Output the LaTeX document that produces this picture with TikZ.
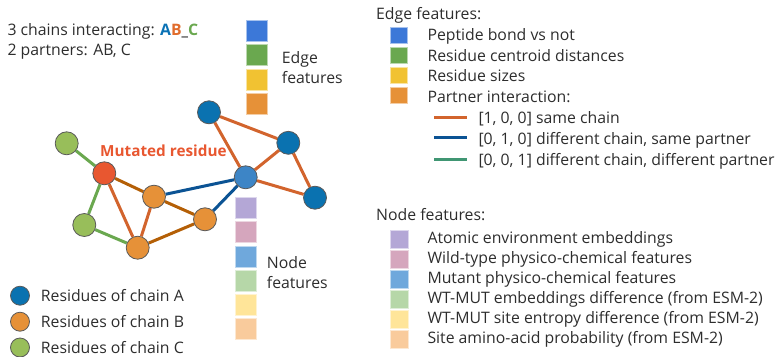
\documentclass[tikz,border=0pt]{standalone}
\usepackage{fontspec}
\setmainfont{Open Sans}
\pgfdeclarelayer{bg}
\pgfsetlayers{bg,main}
\definecolor{cA}{RGB}{10,114,176}
\definecolor{cAc}{RGB}{61,133,198}
\definecolor{cB}{RGB}{230,145,56}
\definecolor{cC}{RGB}{152,190,90}
\definecolor{cMut}{RGB}{232,87,48}
\definecolor{eSame}{RGB}{210,100,45}
\definecolor{eBrown}{RGB}{180,95,6}
\definecolor{eBlue}{RGB}{11,83,148}
\definecolor{eGreen}{RGB}{106,168,79}
\definecolor{eTeal}{RGB}{64,150,115}
\definecolor{tA}{RGB}{11,114,181}
\definecolor{tB}{RGB}{224,108,44}
\definecolor{tC}{RGB}{106,168,79}
\definecolor{fBlue}{RGB}{60,120,216}
\definecolor{fGreen}{RGB}{106,168,79}
\definecolor{fYellow}{RGB}{241,194,50}
\definecolor{fOrange}{RGB}{230,145,56}
\definecolor{nPurple}{RGB}{180,167,214}
\definecolor{nPink}{RGB}{213,166,189}
\definecolor{nBlue}{RGB}{111,168,220}
\definecolor{nGreen}{RGB}{182,215,168}
\definecolor{nYellow}{RGB}{255,229,153}
\definecolor{nPeach}{RGB}{249,203,156}
\definecolor{txtc}{RGB}{45,45,45}
\begin{document}
\begin{tikzpicture}[x=1pt,y=-1pt,
  res/.style={circle, draw=black!65, line width=0.8pt, minimum size=23pt, inner sep=0pt},
  legdot/.style={circle, draw=black!65, line width=0.8pt, minimum size=19pt, inner sep=0pt},
  txt/.style={anchor=base west, inner sep=0pt, font=\fontsize{15.8}{19}\selectfont, text=txtc},
  bigsq/.style={minimum width=21pt, minimum height=21pt, inner sep=0pt, fill=#1, draw=#1!45!white, line width=0.6pt},
  esq/.style={minimum width=17pt, minimum height=16pt, inner sep=0pt, fill=#1, draw=#1!45!white, line width=0.6pt},
  nsq/.style={minimum width=18pt, minimum height=18pt, inner sep=0pt, fill=#1, draw=#1!45!white, line width=0.6pt},
  lnk/.style={line width=3pt, draw=#1},
]
\useasboundingbox (0,0) rectangle (776,356);

% title
\node[txt] (title) at (7.3,35) {3 chains interacting: \textbf{\textcolor{tA}{A}\textcolor{tB}{B}\textcolor{txtc}{\_}\textcolor{tC}{C}}};
\node[txt] (partners) at (7.3,55.7) {2 partners: AB, C};

% graph nodes
\node[res, fill=cC] (g1) at (66.7,143.3) {};
\node[res, fill=cMut] (mut) at (104.3,173.3) {};
\node[res, fill=cC] (g2) at (84.3,225) {};
\node[res, fill=cB] (b1) at (154,196.7) {};
\node[res, fill=cB] (b2) at (137.7,247.7) {};
\node[res, fill=cB] (b3) at (205,219.3) {};
\node[res, fill=cAc] (ac) at (245.7,177.3) {};
\node[res, fill=cA] (a1) at (209,112.3) {};
\node[res, fill=cA] (a2) at (288.3,142.8) {};
\node[res, fill=cA] (a3) at (315,197.7) {};

\node[anchor=base west, inner sep=0pt, font=\fontsize{15.3}{19}\selectfont\bfseries, text=cMut] (mutlbl) at (100,156.7) {Mutated residue};

\begin{pgfonlayer}{bg}
\draw[lnk=eGreen] (g1) -- (mut);
\draw[lnk=eGreen] (mut) -- (g2);
\draw[lnk=eGreen] (g2) -- (b2);
\draw[lnk=eBrown] (mut) -- (b1);
\draw[lnk=eSame] (mut) -- (b2);
\draw[lnk=eSame] (b1) -- (b2);
\draw[lnk=eBrown] (b1) -- (b3);
\draw[lnk=eBrown] (b2) -- (b3);
\draw[lnk=eBlue] (b1) -- (ac);
\draw[lnk=eBlue] (b3) -- (ac);
\draw[lnk=eSame] (ac) -- (a1);
\draw[lnk=eSame] (a1) -- (a2);
\draw[lnk=eSame] (ac) -- (a2);
\draw[lnk=eSame] (ac) -- (a3);
\draw[lnk=eSame] (a2) -- (a3);
\end{pgfonlayer}

% edge feature squares (graph)
\node[bigsq=fBlue] (es1) at (256.5,31.2) {};
\node[bigsq=fGreen] (es2) at (256.5,55) {};
\node[bigsq=fYellow] (es3) at (256.5,79.5) {};
\node[bigsq=fOrange] (es4) at (256.5,103.5) {};
\node[txt] (ef1) at (281.7,63.3) {Edge};
\node[txt] (ef2) at (281.7,83.3) {features};

% node feature squares (graph)
\node[bigsq=nPurple] (ns1) at (245.7,207.8) {};
\node[bigsq=nPink] (ns2) at (245.7,232.2) {};
\node[bigsq=nBlue] (ns3) at (245.7,256.5) {};
\node[bigsq=nGreen] (ns4) at (245.7,280.5) {};
\node[bigsq=nYellow] (ns5) at (245.7,304.8) {};
\node[bigsq=nPeach] (ns6) at (245.7,329.2) {};
\node[txt] (nf1) at (266.7,268.3) {Node};
\node[txt] (nf2) at (266.7,288.7) {features};

% chain legend
\node[legdot, fill=cA] (la) at (20,295.7) {};
\node[legdot, fill=cB] (lb) at (20,321.7) {};
\node[legdot, fill=cC] (lc) at (20,347.5) {};
\node[txt] (lat) at (40.7,301.7) {Residues of chain A};
\node[txt] (lbt) at (40.7,327.5) {Residues of chain B};
\node[txt] (lct) at (40.7,353) {Residues of chain C};

% right legend: edge features
\node[txt] (eh) at (376,19.5) {Edge features:};
\node[esq=fBlue] (r1) at (398.7,35.7) {};
\node[esq=fGreen] (r2) at (398.7,55.3) {};
\node[esq=fYellow] (r3) at (398.7,75.3) {};
\node[esq=fOrange] (r4) at (398.7,95) {};
\node[txt] (r1t) at (427.3,40) {Peptide bond vs not};
\node[txt] (r2t) at (427.3,61) {Residue centroid distances};
\node[txt] (r3t) at (427.3,81.7) {Residue sizes};
\node[txt] (r4t) at (427.3,102.3) {Partner interaction:};
\coordinate (l1a) at (434,117.3); \coordinate (l1b) at (466.7,117.3);
\coordinate (l2a) at (434,137.7); \coordinate (l2b) at (466.7,137.7);
\coordinate (l3a) at (434,159.3); \coordinate (l3b) at (466.7,159.3);
\draw[lnk=eSame] (l1a) -- (l1b);
\draw[lnk=eBlue] (l2a) -- (l2b);
\draw[lnk=eTeal] (l3a) -- (l3b);
\node[txt] (p1) at (478.3,123.3) {[1, 0, 0] same chain};
\node[txt] (p2) at (478.3,144) {[0, 1, 0] different chain, same partner};
\node[txt] (p3) at (478.3,165) {[0, 0, 1] different chain, different partner};

% right legend: node features
\node[txt] (nh) at (376,220.7) {Node features:};
\node[nsq=nPurple] (q1) at (399.2,239.3) {};
\node[nsq=nPink] (q2) at (399.2,259.3) {};
\node[nsq=nBlue] (q3) at (399.2,279.2) {};
\node[nsq=nGreen] (q4) at (399.2,299.2) {};
\node[nsq=nYellow] (q5) at (399.2,319.3) {};
\node[nsq=nPeach] (q6) at (399.2,339.3) {};
\node[txt] (q1t) at (427.3,243.3) {Atomic environment embeddings};
\node[txt] (q2t) at (427.3,263.3) {Wild-type physico-chemical features};
\node[txt] (q3t) at (427.3,283.3) {Mutant physico-chemical features};
\node[txt] (q4t) at (427.3,303.3) {WT-MUT embeddings difference (from ESM-2)};
\node[txt] (q5t) at (427.3,323.3) {WT-MUT site entropy difference (from ESM-2)};
\node[txt] (q6t) at (427.3,343.3) {Site amino-acid probability (from ESM-2)};
\end{tikzpicture}
\end{document}
